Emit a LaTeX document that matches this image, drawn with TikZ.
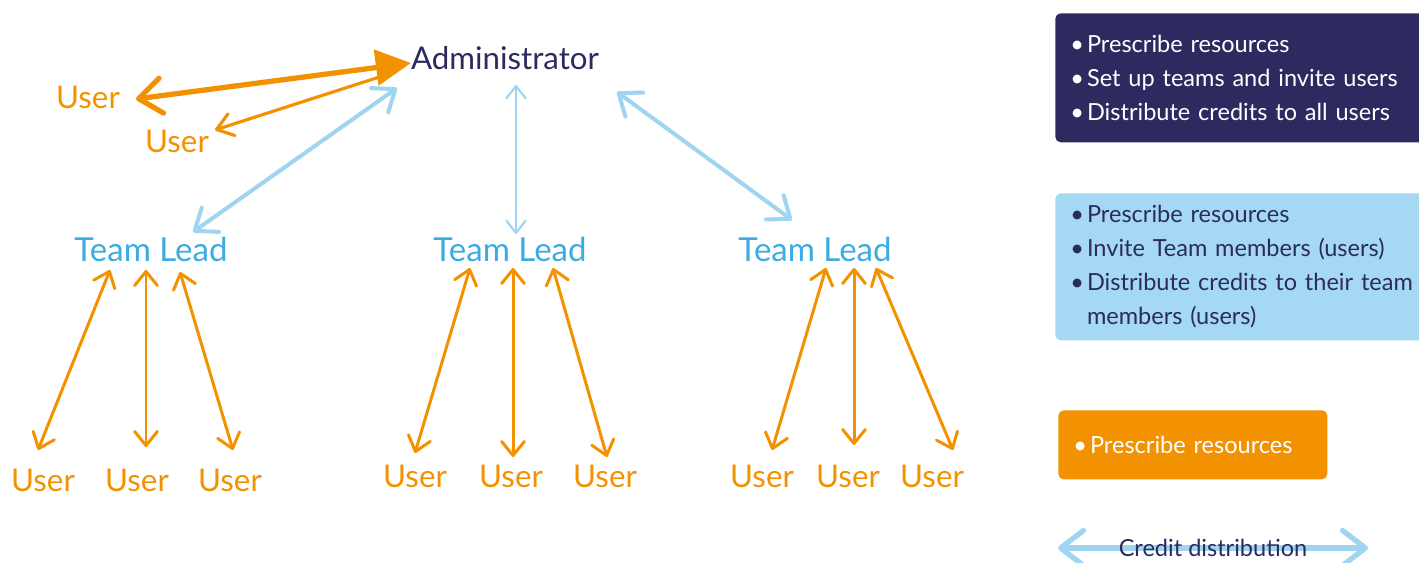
\documentclass[tikz,border=0pt]{standalone}
\usepackage{fontspec}
\setmainfont{Lato}
\usetikzlibrary{positioning, arrows.meta}

\definecolor{navy}{HTML}{2C2A5F}
\definecolor{amber}{HTML}{F39200}
\definecolor{sky}{HTML}{9FD5F1}
\definecolor{skybox}{HTML}{A5D8F2}
\definecolor{leadblue}{HTML}{3CABE0}

\newcommand{\bul}{\makebox[9.5pt][l]{\textbullet}}

\begin{document}
\begin{tikzpicture}[
    x=0.02cm, y=-0.02cm,
    whotext/.style={inner sep=0pt, font=\fontsize{17.8}{20}\selectfont},
    user/.style={whotext, text=amber},
    lead/.style={whotext, text=leadblue, font=\fontsize{18.8}{21}\selectfont},
    legend/.style={anchor=north west, inner xsep=0.3cm, inner ysep=0pt, align=left, rounded corners=3pt,
        font=\fontsize{13.4}{19.3}\selectfont},
    teamarrow/.style={draw=amber, line width=1.7pt,
        {Straight Barb[round, length=8pt, width=13pt]}-{Straight Barb[round, length=8pt, width=13pt]}},
    leadarrow/.style={draw=sky, line width=2.3pt,
        {Straight Barb[round, length=11pt, width=17pt]}-{Straight Barb[round, length=11pt, width=17pt]}}
]
    \useasboundingbox (0,0) rectangle (1419,563);

    % Top: administrator and the two direct users
    \node[whotext, text=navy] (admin) at (505,58) {Administrator};
    \node[user] (user1) at (88,97) {User};
    \node[user] (user2) at (177,141) {User};

    % Team leads
    \node[lead] (lead1) at (151,249) {Team Lead};
    \node[lead] (lead2) at (510,249) {Team Lead};
    \node[lead] (lead3) at (815,249) {Team Lead};

    % Team members
    \node[user] (u11) at (43,480) {User};
    \node[user] (u12) at (137,480) {User};
    \node[user] (u13) at (230,480) {User};
    \node[user] (u21) at (415,476) {User};
    \node[user] (u22) at (511,476) {User};
    \node[user] (u23) at (605,476) {User};
    \node[user] (u31) at (762,476) {User};
    \node[user] (u32) at (848,476) {User};
    \node[user] (u33) at (932,476) {User};

    % Admin <-> direct users
    \draw[draw=amber, line width=1.8pt, -{Straight Barb[round, length=9pt, width=13pt]}]
        ([shift={(-110,14)}]admin.center) -- ([shift={(38,-11)}]user2.center);
    \draw[draw=amber, line width=3pt,
        {Straight Barb[round, length=13pt, width=20pt]}-{Triangle[length=20pt, width=20pt]}]
        ([shift={(48,2)}]user1.center) -- ([shift={(-94,5)}]admin.center);

    % Admin <-> team leads
    \draw[leadarrow] ([shift={(-108,30)}]admin.center) -- ([shift={(42,-17)}]lead1.center);
    \draw[draw=sky, line width=1.2pt,
        {Straight Barb[round, length=7pt, width=11pt]}-{Straight Barb[round, length=7pt, width=11pt]}]
        ([shift={(11,27)}]admin.center) -- ([shift={(6,-15)}]lead2.center);
    \draw[leadarrow] ([shift={(112,34)}]admin.center) -- ([shift={(-23,-29)}]lead3.center);

    % Team leads <-> members
    \draw[teamarrow] ([shift={(-41,21)}]lead1.center) -- ([shift={(-5,-30)}]u11.center);
    \draw[teamarrow] ([shift={(-5,21)}]lead1.center) -- ([shift={(9,-33)}]u12.center);
    \draw[teamarrow] ([shift={(29,23)}]lead1.center) -- ([shift={(3,-30)}]u13.center);

    \draw[teamarrow] ([shift={(-40,19)}]lead2.center) -- ([shift={(0,-23)}]u21.center);
    \draw[teamarrow] ([shift={(3,19)}]lead2.center) -- ([shift={(2,-19)}]u22.center);
    \draw[teamarrow] ([shift={(43,19)}]lead2.center) -- ([shift={(2,-19)}]u23.center);

    \draw[teamarrow] ([shift={(11,19)}]lead3.center) -- ([shift={(10,-26)}]u31.center);
    \draw[teamarrow] ([shift={(39,19)}]lead3.center) -- ([shift={(6,-31)}]u32.center);
    \draw[teamarrow] ([shift={(61,19)}]lead3.center) -- ([shift={(21,-26)}]u33.center);

    % Legend boxes
    \node[legend, fill=navy, text=white, minimum width=7.8cm, minimum height=2.58cm, text width=7.2cm]
        (adminbox) at (1055,13)
        {\bul Prescribe resources\\ \bul Set up teams and invite users\\ \bul Distribute credits to all users};
    \node[legend, fill=skybox, text=navy, minimum width=7.8cm, minimum height=2.94cm, text width=7.2cm]
        (leadbox) at (1055,193)
        {\bul Prescribe resources\\ \bul Invite Team members (users)\\ \bul Distribute credits to their team\\
         \hspace*{9.5pt}members (users)};
    \node[legend, fill=amber, text=white, minimum width=5.38cm, minimum height=1.38cm, text width=4.78cm]
        (userbox) at (1058,410) {\bul Prescribe resources};

    % Credit distribution key
    \coordinate (credL) at (1058,548);
    \coordinate (credR) at (1368,548);
    \draw[draw=sky, line width=3pt,
        {Straight Barb[round, length=13pt, width=20pt]}-{Straight Barb[round, length=13pt, width=20pt]}]
        (credL) -- (credR);
    \node[inner sep=0pt, text=navy, font=\fontsize{13.4}{15}\selectfont] (credit) at (1213,548) {Credit distribution};
\end{tikzpicture}
\end{document}
